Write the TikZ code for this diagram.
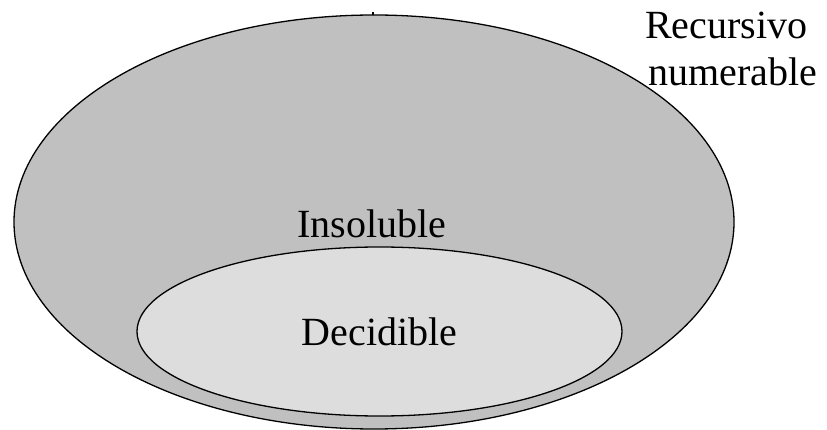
\documentclass[tikz,border=0pt]{standalone}
\usepackage{fontspec}
\setmainfont{Liberation Serif}
\definecolor{outerfill}{HTML}{C0C0C0}
\definecolor{innerfill}{HTML}{DDDDDD}
\begin{document}
\begin{tikzpicture}[x=1pt,y=-1pt,
  setline/.style={draw=black,line width=1.3pt},
  lbl/.style={font=\fontsize{40}{47}\selectfont,inner sep=0pt,anchor=base}]
\useasboundingbox (0,0) rectangle (827,430);
% recursively enumerable set
\filldraw[setline,fill=outerfill] (374,222) ellipse [x radius=360,y radius=207];
\draw[line width=1.2pt] (373,12.5) -- (373,15);
% decidible subset
\filldraw[setline,fill=innerfill] (379.5,331.5) ellipse [x radius=242.5,y radius=84.5];
% labels
\node[lbl] (insol) at (372,238) {Insoluble};
\node[lbl] (decid) at (379.5,345) {Decidible};
\node[lbl,anchor=base west] (rec1) at (645,39) {Recursivo};
\node[lbl,anchor=base west] (rec2) at (648,86) {numerable};
\end{tikzpicture}
\end{document}
